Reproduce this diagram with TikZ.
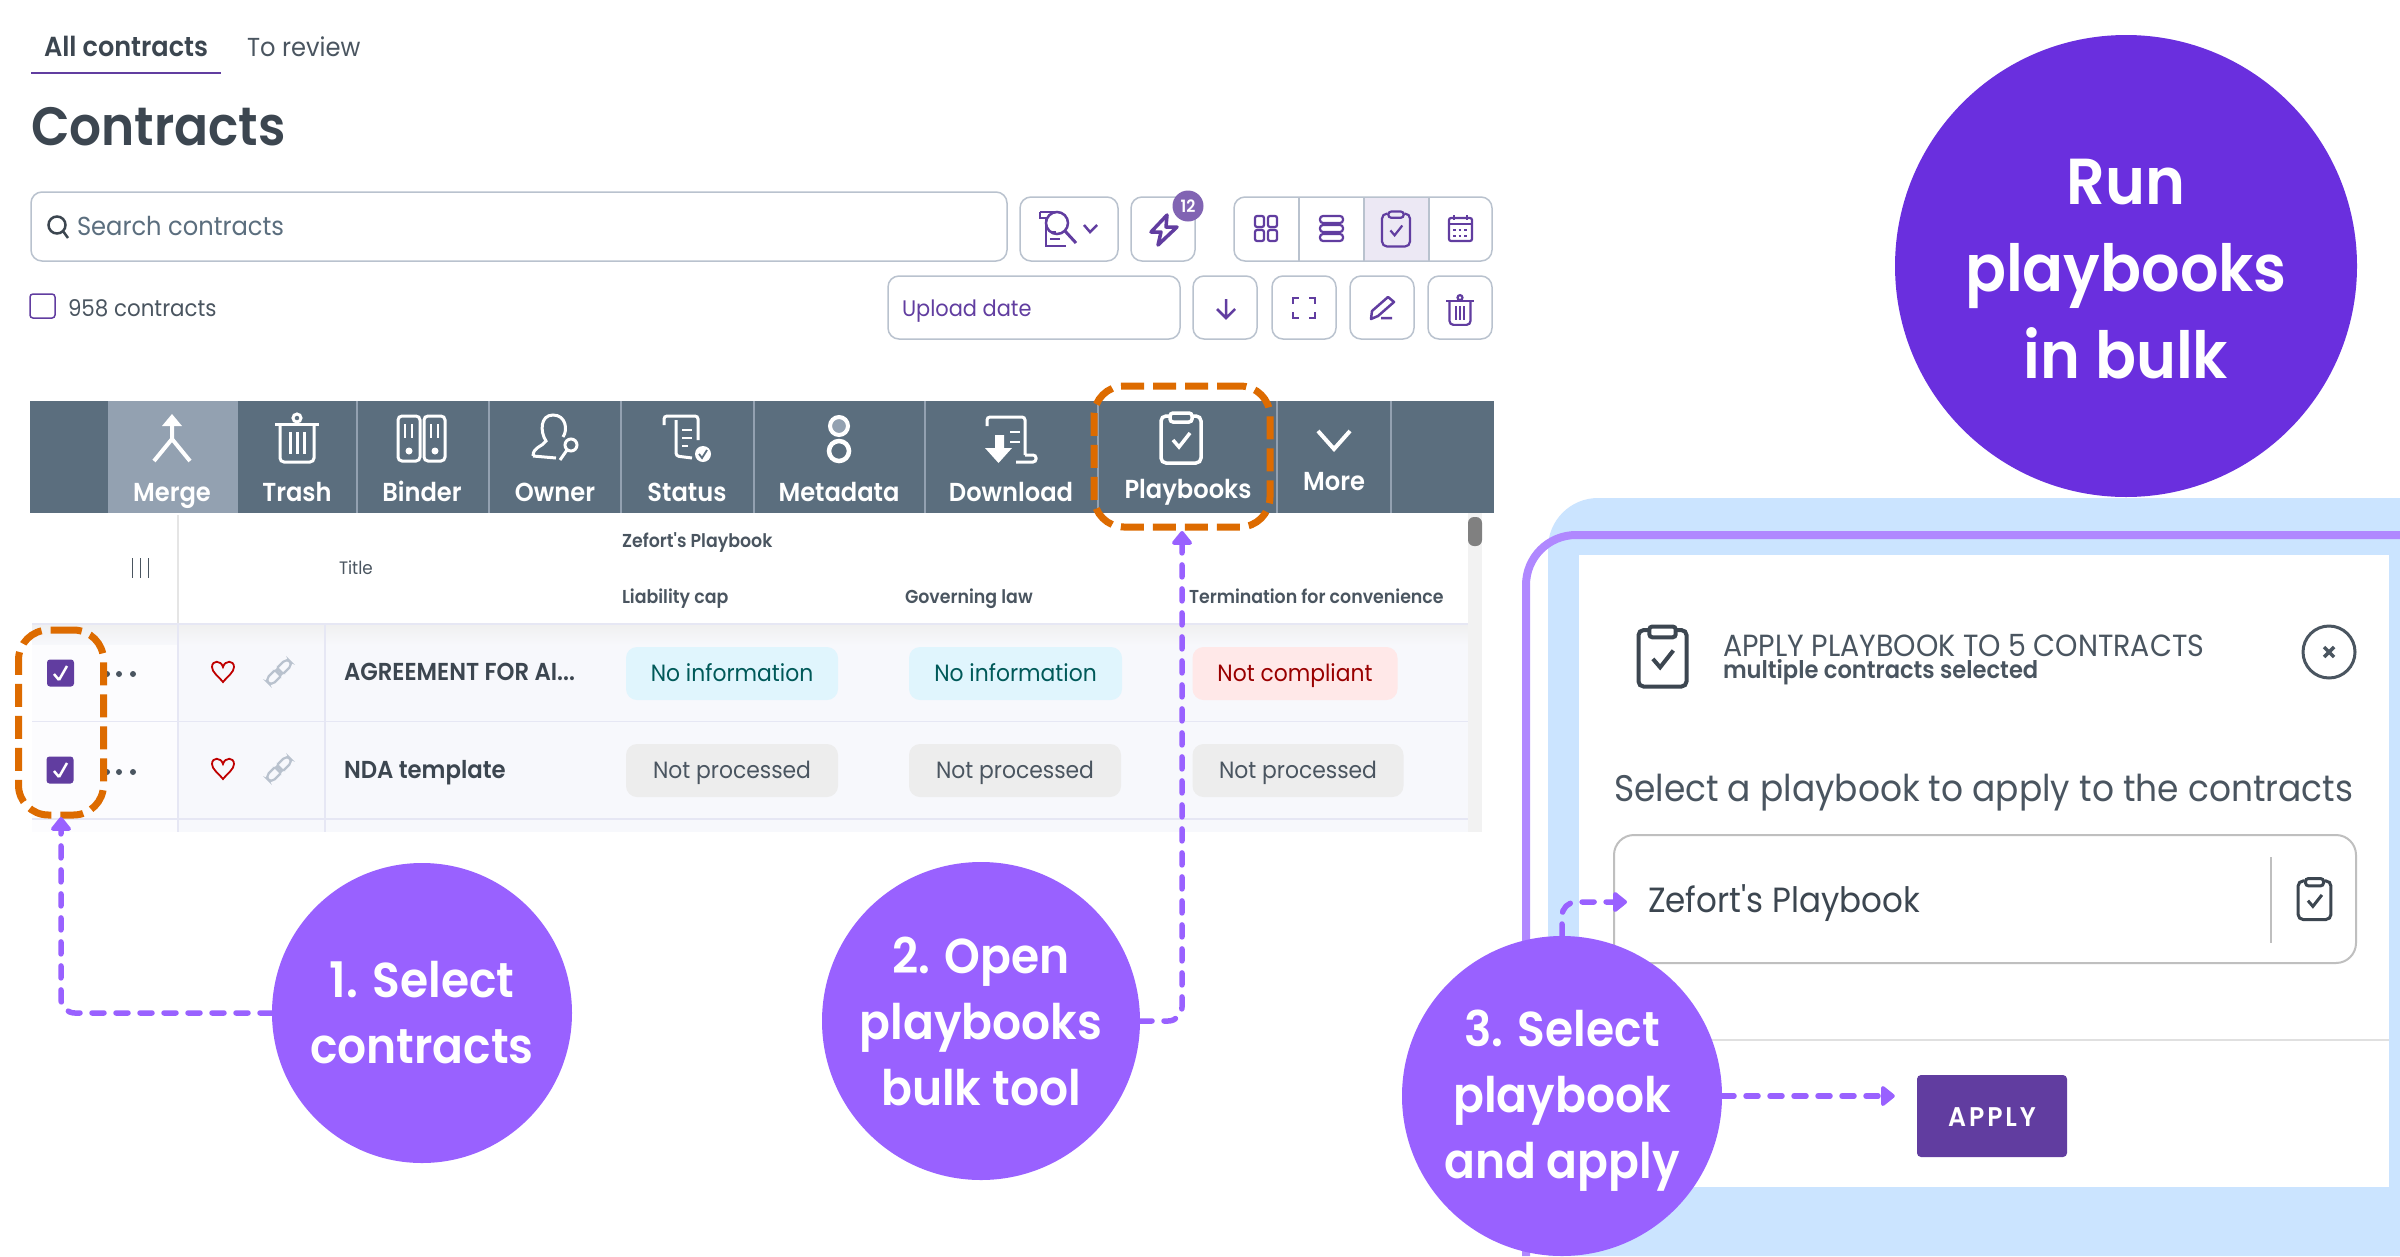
\documentclass[tikz,border=0pt]{standalone}
\usepackage{fontspec}
\setmainfont{Poppins}[FakeStretch=0.93]
\newfontfamily\regfont{Poppins}[FakeStretch=0.93]
\newfontfamily\semifont{Poppins SemiBold}[FakeStretch=0.93]
\usetikzlibrary{arrows.meta}
\definecolor{stepviolet}{HTML}{9961FF}
\definecolor{runviolet}{HTML}{6A2FDE}
\definecolor{uiviolet}{HTML}{613DA0}
\definecolor{barslate}{HTML}{5B6E7E}
\definecolor{barlight}{HTML}{93A1B1}
\definecolor{ink}{HTML}{3C4650}
\definecolor{softink}{HTML}{4A5560}
\definecolor{btnline}{HTML}{B9C2CE}
\definecolor{marker}{HTML}{DD6B00}
\definecolor{panelblue}{HTML}{CBE4FF}
\definecolor{frameviolet}{HTML}{B088FF}
\definecolor{rowbg}{HTML}{F7F8FC}
\definecolor{rowline}{HTML}{E6E7F4}
\newcommand{\fnt}[1]{\fontsize{#1}{#1}\selectfont}
\tikzset{
  clipicon/.pic={
    \draw[rounded corners=5] (-12,-22) -- (-20,-22) -- (-20,25) -- (20,25) -- (20,-22) -- (12,-22);
    \draw[rounded corners=3] (-11,-25) rectangle (11,-16);
    \draw (-8,2) -- (-2,9) -- (9,-5);
  },
  trashicon/.pic={
    \draw (-22,-14) -- (22,-14);
    \draw (0,-20) circle (4);
    \draw[rounded corners=4] (-17,-14) -- (-17,24) -- (17,24) -- (17,-14);
    \draw (-7,-6) -- (-7,16) (0,-6) -- (0,16) (7,-6) -- (7,16);
  },
  hearticon/.pic={
    \draw (0,10) .. controls (-5,4) and (-11,0) .. (-11,-5) .. controls (-11,-12) and (-2,-12) .. (0,-5)
                 .. controls (2,-12) and (11,-12) .. (11,-5) .. controls (11,0) and (5,4) .. (0,10) -- cycle;
  },
  linkicon/.pic={
    \draw[rotate=45,rounded corners=5] (-18,-5) rectangle (2,5);
    \draw[rotate=45,rounded corners=5] (-2,-5) rectangle (18,5);
  }
}
\begin{document}
\begin{tikzpicture}[x=1pt,y=-1pt,line cap=butt,
    conn/.style={draw=stepviolet,line width=5.5,dash pattern=on 12pt off 12pt,line cap=round,
                 -{Triangle[width=23pt,length=15pt,round]}}]
  \tikzstyle{lab}=[inner sep=0,outer sep=0,anchor=base west]
  \tikzstyle{tool}=[inner sep=0,anchor=base,text=white]
  \tikzstyle{btn}=[draw=btnline,line width=1.5,rounded corners=11,inner sep=0,minimum height=63]
  \tikzstyle{pill}=[rounded corners=11,inner sep=0,minimum height=53,text height=19,text depth=4]
  \tikzstyle{chk}=[fill=uiviolet,rounded corners=3,inner sep=0,minimum width=27,minimum height=27]
  \tikzstyle{marked}=[draw=marker,line width=7,dash pattern=on 23pt off 9pt,rounded corners=30,inner sep=0,outer sep=0]
  \tikzstyle{stepnode}=[circle,fill=stepviolet,text=white,align=center,inner sep=0,outer sep=0,minimum size=320]

  \useasboundingbox (0,0) rectangle (2400,1256);
  \fill[white] (0,0) rectangle (2400,1256);

  \node[lab,text=ink,font=\semifont\fnt{27.5}]   (tabAll) at (44,56)    {All contracts};
  \node[lab,text=softink,font=\fnt{26}]          (tabRev) at (247,56)   {To review};
  \draw[uiviolet,line width=1.5] (31,73) -- (221,73);
  \node[lab,text=ink,font=\semifont\fnt{54}]     (title)  at (31,145)   {Contracts};

  \node[btn,minimum width=976,minimum height=69] (search) at (519,226.5) {};
  \draw[ink,line width=2.5] (57,225) circle (8.5) (63,231) -- (68,238);
  \node[lab,text=barslate,font=\fnt{26}]         (searchTxt) at (77,235) {Search contracts};
  \node[draw=uiviolet,line width=1.5,rounded corners=3,inner sep=0,minimum width=25,minimum height=24] (allBox) at (42.5,306) {};
  \node[lab,text=softink,font=\fnt{23}]          (count)  at (68,316)   {958 contracts};

  \node[btn,minimum width=98,minimum height=64]  (filter) at (1069,229) {};
  \begin{scope}[uiviolet,line width=2.5]
    \draw (1040,212) -- (1058,212) (1040,212) -- (1040,218) -- (1046,218) -- (1046,246) -- (1066,246);
    \draw[fill=white] (1057,223) circle (11);
    \draw[line width=3] (1065,231) -- (1076,243);
    \draw (1050,232) -- (1056,232) (1050,239) -- (1060,239);
    \draw (1084,225) -- (1090,232) -- (1097,225);
  \end{scope}
  \node[btn,minimum width=64,minimum height=64]  (bolt)   at (1163,229) {};
  \draw[uiviolet,line width=3.5,line join=round] (1167,215) -- (1151,232) -- (1161,232) -- (1158,245) -- (1177,227) -- (1166,227) -- cycle;
  \node[circle,fill=uiviolet!80,text=white,font=\semifont\fnt{17},inner sep=0,minimum size=31] (badge) at (1188,206) {12};

  \fill[uiviolet!12] (1364,197) rectangle (1429,261);
  \node[btn,minimum width=258,minimum height=64] (views)  at (1363,229) {};
  \draw[btnline,line width=1.5] (1299,197) -- (1299,261) (1364,197) -- (1364,261) (1429,197) -- (1429,261);
  \begin{scope}[uiviolet,line width=2.2]
    \draw[rounded corners=2] (1255,216) rectangle (1264,227) (1268,216) rectangle (1277,227)
                             (1255,230) rectangle (1264,241) (1268,230) rectangle (1277,241);
    \draw[rounded corners=3] (1320,216) rectangle (1343,223) (1320,225) rectangle (1343,232) (1320,234) rectangle (1343,241);
    \pic[scale=.7,line width=2.2] at (1396,229) {clipicon};
    \draw[rounded corners=2] (1449,218) rectangle (1472,241);
    \draw (1454,215) -- (1454,220) (1467,215) -- (1467,220) (1449,224) -- (1472,224);
    \draw[dash pattern=on 2.5pt off 3pt] (1453,230) -- (1469,230) (1453,236) -- (1469,236);
  \end{scope}

  \node[btn,minimum width=292]                   (sortBy) at (1034,307.5) {};
  \node[lab,text=uiviolet,font=\fnt{22.5}]       (sortTxt) at (902,316) {Upload date};
  \node[btn,minimum width=64]                    (sortDir) at (1225,307.5) {};
  \node[btn,minimum width=64]                    (expand)  at (1304,307.5) {};
  \node[btn,minimum width=64]                    (edit)    at (1382,307.5) {};
  \node[btn,minimum width=64]                    (remove)  at (1460,307.5) {};
  \begin{scope}[uiviolet,line width=2.5]
    \draw (1226,299) -- (1226,318) (1217,309) -- (1226,318) -- (1235,309);
    \draw (1293,304) -- (1293,298) -- (1299,298) (1309,298) -- (1315,298) -- (1315,304)
          (1293,312) -- (1293,318) -- (1299,318) (1309,318) -- (1315,318) -- (1315,312);
    \draw[line join=round] (1388,297) -- (1394,302) -- (1378,316) -- (1371,319) -- (1372,311) -- cycle (1381,318) -- (1392,318);
    \pic[scale=.62,line width=2.2] at (1460,310) {trashicon};
  \end{scope}

  \fill[barslate] (30,401) rectangle (1494,513);
  \fill[barlight] (108,401) rectangle (238,513);
  \draw[barlight,line width=1.5] (357,401) -- (357,513) (489,401) -- (489,513) (621,401) -- (621,513) (754,401) -- (754,513)
        (925,401) -- (925,513) (1098,401) -- (1098,513) (1277,401) -- (1277,513) (1391,401) -- (1391,513);
  \node[tool,font=\semifont\fnt{26}] (merge)    at (172,501)  {Merge};
  \node[tool,font=\semifont\fnt{26}] (trash)    at (297,501)  {Trash};
  \node[tool,font=\semifont\fnt{26}] (binder)   at (422,501)  {Binder};
  \node[tool,font=\semifont\fnt{26}] (owner)    at (555,501)  {Owner};
  \node[tool,font=\semifont\fnt{26}] (status)   at (687,501)  {Status};
  \node[tool,font=\semifont\fnt{26}] (metadata) at (839,501)  {Metadata};
  \node[tool,font=\semifont\fnt{26}] (download) at (1011,501) {Download};
  \node[tool,font=\semifont\fnt{26}] (playbooks) at (1188,498) {Playbooks};
  \node[tool,font=\semifont\fnt{26}] (more)     at (1334,490) {More};
  \begin{scope}[white,line width=4]
    \fill (172,414) -- (182,426) -- (162,426) -- cycle;
    \draw (172,424) -- (172,439) -- (154,461) (172,439) -- (190,461);
    \pic[line width=3] at (297,438) {trashicon};
    \draw[rounded corners=4,line width=3] (398,416) rectangle (420,461) (424,416) rectangle (445,461);
    \draw[line width=2] (405,424) -- (405,438) (412,424) -- (412,438) (431,424) -- (431,438) (438,424) -- (438,438);
    \fill (409,451) circle (3.5) (435,451) circle (3.5);
    \draw[line width=3] (533,456) .. controls (533,447) and (542,447) .. (546,441) .. controls (540,432) and (540,415) .. (553,415)
          .. controls (566,415) and (568,430) .. (563,437) (533,456) -- (556,458);
    \draw[line width=3] (571,445) circle (6) (567,450) -- (560,460);
    \draw[line width=3,rounded corners=3] (664,425) -- (664,416) -- (698,416) -- (698,440) (676,420) -- (676,456) -- (692,458);
    \draw[line width=2.5] (682,430) -- (692,430) (682,438) -- (692,438) (682,446) -- (688,446);
    \fill (703,454) circle (8);
    \draw[barslate,line width=1.8] (699,454) -- (702,458) -- (707,450);
    \draw[line width=4,fill=barlight] (839,426) circle (9);
    \draw[line width=4.5] (839,451) circle (10);
    \draw[line width=3,rounded corners=3] (987,426) -- (987,417) -- (1025,417) -- (1025,455) (1025,455) -- (1036,455) -- (1036,462) -- (1016,462);
    \draw[line width=2.5] (1010,432) -- (1020,432) (1010,442) -- (1020,442);
    \fill (995,435) rectangle (1004,448) (985,448) -- (1012,448) -- (998.5,463) -- cycle;
    \pic[line width=3.5] at (1181,438) {clipicon};
    \draw (1318,431) -- (1334,449) -- (1350,431);
  \end{scope}

  \fill[rowbg] (32,623) rectangle (1468,832);
  \shade[top color=black!6,bottom color=rowbg] (32,624) rectangle (1468,645);
  \fill[white!60!rowbg] (32,645) rectangle (178,832);
  \draw[rowline,line width=1.5] (32,624) -- (1468,624) (32,721.5) -- (1468,721.5) (32,819) -- (1468,819)
        (178,624) -- (178,832) (325,624) -- (325,832);
  \draw[black!10,line width=2] (178,515) -- (178,623);
  \fill[black!5] (1468,513) rectangle (1482,832);
  \fill[black!50,rounded corners=6] (1468,517) rectangle (1482,546);

  \draw[softink,line width=1] (132,558) -- (132,578) (140,558) -- (140,578) (148,558) -- (148,578);
  \node[lab,text=softink,font=\fnt{18}]            (colTitle) at (339,574)  {Title};
  \node[lab,text=softink,font=\semifont\fnt{18.7}] (colGroup) at (622,547)  {Zefort's Playbook};
  \node[lab,text=softink,font=\semifont\fnt{18.7}] (colCap)   at (622,603)  {Liability cap};
  \node[lab,text=softink,font=\semifont\fnt{18.7}] (colLaw)   at (905,603)  {Governing law};
  \node[lab,text=softink,font=\semifont\fnt{18.7}] (colTerm)  at (1189,603) {Termination for convenience};

  \node[chk] (chkA) at (60.5,673) {};
  \node[chk] (chkB) at (60,770)   {};
  \draw[white,line width=2.5] (54,674) -- (59,680) (59,680) -- (67,666);
  \draw[white,line width=2.5] (54,771) -- (59,777) (59,777) -- (67,763);
  \fill[softink] (107,674) circle (3) (119,674) circle (3) (133,674) circle (3)
                 (107,772) circle (3) (119,772) circle (3) (133,772) circle (3);
  \pic[red!75!black,line width=1.8] at (223,672) {hearticon};
  \pic[red!75!black,line width=1.8] at (223,769) {hearticon};
  \pic[btnline,line width=2.2,scale=.85] at (279,672) {linkicon};
  \pic[btnline,line width=2.2,scale=.85] at (279,769) {linkicon};

  \node[lab,text=ink,font=\semifont\fnt{24.5}]   (rowA) at (344,680) {AGREEMENT FOR AI...};
  \node[lab,text=ink,font=\semifont\fnt{24.5}]   (rowB) at (344,778) {NDA template};

  \node[pill,fill=cyan!12,text=teal!70!black,font=\fnt{23.5},minimum width=212] (pillA) at (732,673.5)    {No information};
  \node[pill,fill=cyan!12,text=teal!70!black,font=\fnt{23.5},minimum width=213] (pillB) at (1015.5,673.5) {No information};
  \node[pill,fill=red!9,text=red!60!black,font=\fnt{23.5},minimum width=205]    (pillC) at (1295,673.5)   {Not compliant};
  \node[pill,fill=black!7,text=softink,font=\fnt{23.5},minimum width=212]       (pillD) at (732,770.5)    {Not processed};
  \node[pill,fill=black!7,text=softink,font=\fnt{23.5},minimum width=212]       (pillE) at (1015,770.5)   {Not processed};
  \node[pill,fill=black!7,text=softink,font=\fnt{23.5},minimum width=211]       (pillF) at (1298,770.5)   {Not processed};

  \node[marked,minimum width=176,minimum height=141] (pbBox)  at (1182,456.5) {};
  \node[marked,minimum width=85,minimum height=185]  (chkBox) at (61,722.5)   {};

  \fill[panelblue] (1548,1256) [rounded corners=50] -- (1548,498) [sharp corners] -- (2400,498) -- (2400,1256) -- cycle;
  \draw[frameviolet,line width=8,rounded corners=50] (1526,1256) -- (1526,535) -- (2400,535);
  \fill[white] (1579,555) rectangle (2389,1187);
  \pic[ink,line width=4,scale=1.2] at (1662.5,656.5) {clipicon};
  \node[lab,text=softink,font=\fnt{30.6}]          (dlgHead) at (1723,656) {APPLY PLAYBOOK TO 5 CONTRACTS};
  \node[lab,text=softink,font=\semifont\fnt{24.3}] (dlgSub)  at (1723,678) {multiple contracts selected};
  \node[circle,draw=softink,line width=3,inner sep=0,minimum size=52] (dlgClose) at (2329,652) {};
  \draw[softink,line width=3.5] (2324,647) -- (2334,657) (2334,647) -- (2324,657);
  \node[lab,text=softink,font=\fnt{37}]           (dlgAsk)  at (1614,801) {Select a playbook to apply to the contracts};
  \node[draw=black!25,line width=2,rounded corners=20,inner sep=0,minimum width=742,minimum height=128] (pbInput) at (1985,899) {};
  \node[lab,text=ink,font=\regfont\fnt{35}]       (pbName)  at (1648,912) {Zefort's Playbook};
  \draw[black!25,line width=2] (2271,857) -- (2271,943);
  \pic[ink,line width=3,scale=.82] at (2314.5,899) {clipicon};
  \draw[black!12,line width=2.5] (1640,1040) -- (2389,1040);
  \node[fill=uiviolet,rounded corners=4,inner sep=0,minimum width=150,minimum height=82] (apply) at (1992,1116) {};
  \node[tool,font=\semifont\fnt{27}\addfontfeature{LetterSpace=11}] (applyTxt) at (1992,1126) {APPLY};

  \node[stepnode,minimum size=300,font=\semifont\fontsize{49}{66}\selectfont] (stepA) at (422,1013)  {1. Select\\contracts};
  \node[stepnode,minimum size=318,font=\semifont\fontsize{49}{66}\selectfont] (stepB) at (981,1021)  {2. Open\\playbooks\\bulk tool};
  \node[stepnode,minimum size=320] (stepC) at (1562,1096) {};
  \node[text=white,align=center,inner sep=0,yshift=-4.6pt,font=\semifont\fontsize{49}{66}\selectfont] (stepCTxt) at (stepC) {3. Select\\playbook\\and apply};
  \node[stepnode,fill=runviolet,minimum size=462] (run) at (2126,266) {};
  \node[text=white,align=center,inner sep=0,yshift=-3pt,font=\semifont\fontsize{65}{87}\selectfont] (runTxt) at (run) {Run\\playbooks\\in bulk};

  \coordinate (pbTip) at (1627,902);
  \draw[conn,rounded corners=14] (stepA.west) -| ([yshift=-2pt]chkBox.south);
  \draw[conn,rounded corners=14] (stepB.east) -| ([yshift=-4pt]pbBox.south);
  \draw[conn,rounded corners=14] (stepC.north) |- (pbTip);
  \draw[conn,shorten >=22pt] (stepC.east) -- (stepC.east -| apply.west);
\end{tikzpicture}
\end{document}
